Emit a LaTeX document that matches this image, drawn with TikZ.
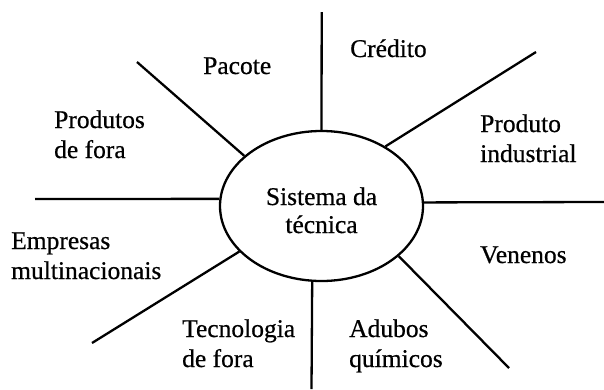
\documentclass[tikz,border=0pt]{standalone}
\usepackage{fontspec}
\setmainfont{Liberation Serif}[FakeBold=0.6]
\usetikzlibrary{shapes.geometric}
\begin{document}
\begin{tikzpicture}[x=1pt,y=-1pt,
  hub/.style={draw,ellipse,line width=2.3pt,minimum width=203pt,minimum height=150pt,inner sep=0pt},
  spoke/.style={line width=2.3pt},
  lbl/.style={anchor=base west,inner sep=0pt,font=\fontsize{25.5}{30}\selectfont},
  mid/.style={anchor=base,inner sep=0pt,font=\fontsize{25.5}{28}\selectfont}]
\useasboundingbox (0,0) rectangle (604,389);
\node[hub] (c) at (321.5,206) {};
\node[mid] (ct) at (321.5,205) {\begin{tabular}[t]{@{}c@{}}Sistema da\\técnica\end{tabular}};
% free ends
\coordinate (eN)  at (321.7,12);
\coordinate (eNE) at (536,52);
\coordinate (eE)  at (604,202);
\coordinate (eSE) at (509,368);
\coordinate (eS)  at (311.5,389);
\coordinate (eSW) at (92,343);
\coordinate (eW)  at (35,199);
\coordinate (eNW) at (137,62);
\draw[spoke] (c.90) -- (eN);
\draw[spoke] (c.43) -- (eNE);
\draw[spoke] (c.2.3) -- (eE);
\draw[spoke] (c.-33) -- (eSE);
\draw[spoke] (c.-97.6) -- (eS);
\draw[spoke] (c.209.4) -- (eSW);
\draw[spoke] (c.176) -- (eW);
\draw[spoke] (c.147) -- (eNW);
% labels
\node[lbl] (l1) at (350,57) {Crédito};
\node[lbl] (l2) at (203,74) {Pacote};
\node[lbl] (l3) at (54,128) {\begin{tabular}[t]{@{}l@{}}Produtos\\de fora\end{tabular}};
\node[lbl] (l4) at (480,132) {\begin{tabular}[t]{@{}l@{}}Produto\\industrial\end{tabular}};
\node[lbl] (l5) at (11,249) {\begin{tabular}[t]{@{}l@{}}Empresas\\multinacionais\end{tabular}};
\node[lbl] (l6) at (480,263) {Venenos};
\node[lbl] (l7) at (182,337) {\begin{tabular}[t]{@{}l@{}}Tecnologia\\de fora\end{tabular}};
\node[lbl] (l8) at (349,337) {\begin{tabular}[t]{@{}l@{}}Adubos\\químicos\end{tabular}};
\end{tikzpicture}
\end{document}
